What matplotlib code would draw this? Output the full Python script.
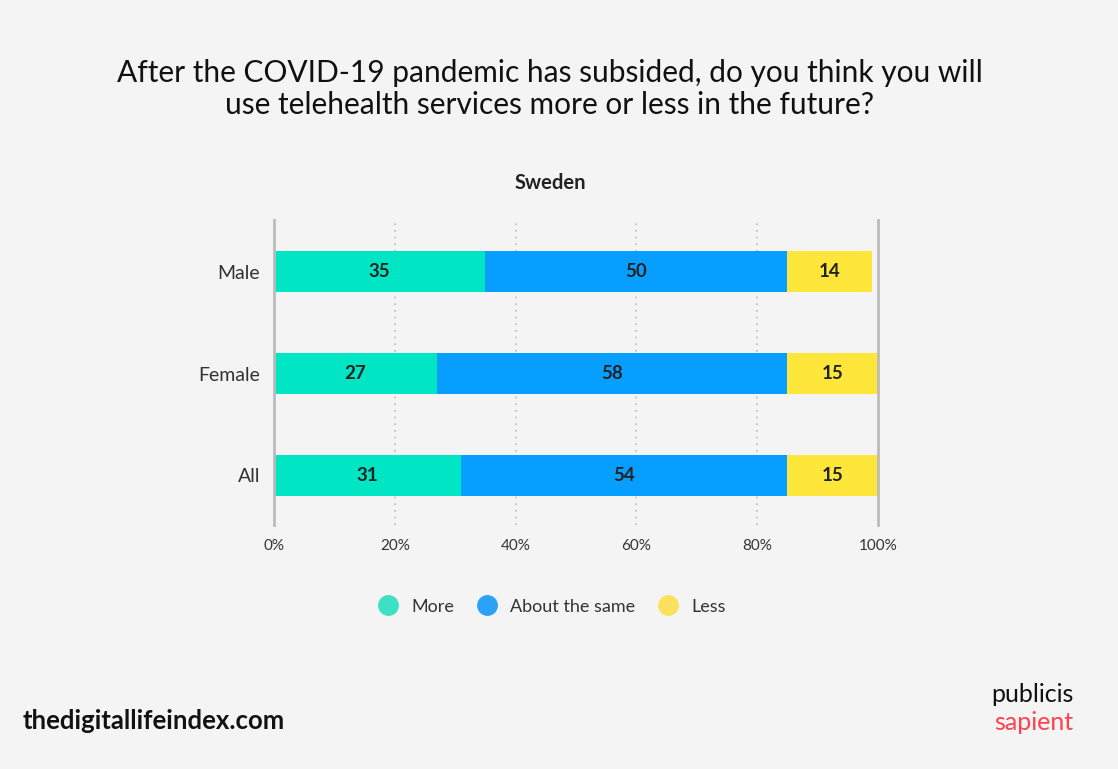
import numpy as np
import matplotlib.pyplot as plt
from matplotlib.lines import Line2D

plt.rcParams['font.family'] = ['Lato', 'DejaVu Sans']

groups = ['All', 'Female', 'Male']
more = np.array([31, 27, 35])
same = np.array([54, 58, 50])
less = np.array([15, 15, 14])
series_names = ['More', 'About the same', 'Less']
bar_colors = ['#00E5C4', '#069FFF', '#FFE63B']
legend_colors = ['#3DE0C4', '#2AA3F7', '#FCE15E']
ticks = [0, 20, 40, 60, 80, 100]

bg = '#F4F4F4'
fig = plt.figure(figsize=(11.18, 7.69), dpi=100, facecolor=bg)
ax = fig.add_axes([0.2451, 0.317, 0.5403, 0.397], facecolor=bg)

y = np.arange(len(groups))
left = np.zeros(len(groups))
for vals, col in zip([more, same, less], bar_colors):
    ax.barh(y, vals, left=left, height=0.4, color=col, zorder=3)
    for yi, l, v in zip(y, left, vals):
        ax.text(l + v / 2, yi, str(v), ha='center', va='center',
                fontsize=13.5, fontweight='bold', color='#222222', zorder=4)
    left = left + vals

ax.set_xlim(0, 100)
ax.set_ylim(-0.49, 2.51)
ax.set_yticks(y)
ax.set_yticklabels(groups, fontsize=14, color='#333333')
ax.set_xticks(ticks)
ax.set_xticklabels([f'{t}%' for t in ticks], fontsize=11, color='#333333')
ax.tick_params(length=0, pad=10)
ax.tick_params(axis='y', pad=10)

for s in ax.spines.values():
    s.set_visible(False)
for t in ticks[1:-1]:
    ax.axvline(t, color='#BBBBBB', lw=1.2, ls=(0, (1, 3)), zorder=1)
for t in (0, 100):
    ax.axvline(t, color='#BBBBBB', lw=2, zorder=5, clip_on=False)

fig.text(0.492, 0.762, 'Sweden', fontsize=14.5, fontweight='bold', color='#222222',
         ha='center', va='center')

fig.text(0.492, 0.884, 'After the COVID-19 pandemic has subsided, do you think you will\n'
         'use telehealth services more or less in the future?',
         ha='center', va='center', fontsize=21.5, color='#111111', linespacing=1.15)

handles = [Line2D([], [], marker='o', ls='', markersize=14, color=c) for c in legend_colors]
fig.legend(handles, series_names, loc='center', bbox_to_anchor=(0.49, 0.211),
           ncol=3, frameon=False, fontsize=13, handletextpad=0.3, columnspacing=0.8,
           labelcolor='#333333')

fig.text(0.02, 0.062, 'thedigitallifeindex.com', fontsize=18.5, fontweight='bold',
         color='#111111', va='center', ha='left')
fig.text(0.96, 0.097, 'publicis', fontsize=18, fontweight='normal', color='#111111',
         va='center', ha='right')
fig.text(0.96, 0.060, 'sapient', fontsize=18, fontweight='normal', color='#FE414D',
         va='center', ha='right')

fig.savefig('out.png', dpi=100, facecolor=bg)
